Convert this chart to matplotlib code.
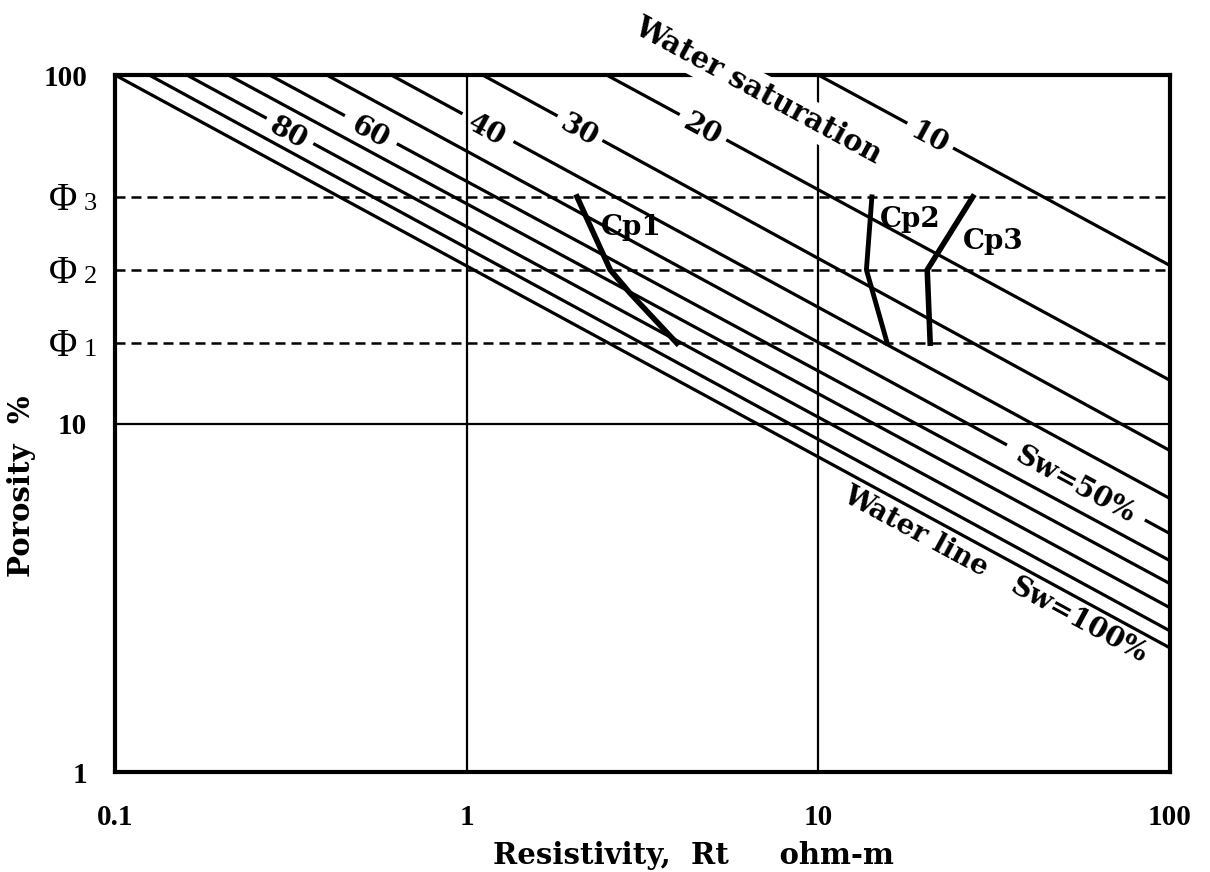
import numpy as np
import matplotlib
matplotlib.use('Agg')
import matplotlib.pyplot as plt

# constant water saturation lines (Sw, %), read where each one meets
# the top edge (porosity 100) and the right edge (Rt 100) of the chart
sw = [100, 90, 80, 70, 60, 50, 40, 30, 20, 10]
rt_top = [0.1, 0.125, 0.16, 0.21, 0.275, 0.40, 0.61, 1.11, 2.5, 10.0]
phi_right = [2.27, 2.54, 2.96, 3.47, 4.04, 4.83, 6.09, 8.36, 13.3, 28.4]

# porosity levels (dashed)
phi_levels = [17.0, 27.6, 44.7]
phi_names = ['1', '2', '3']

# Cp curves: resistivity vs porosity
cp1_rt = [2.06, 2.56, 2.91, 3.96]
cp1_phi = [44.7, 27.6, 23.7, 17.0]
cp2_rt = [14.2, 13.7, 15.7]
cp2_phi = [44.7, 27.6, 17.0]
cp3_rt = [27.5, 20.4, 20.8]
cp3_phi = [44.7, 27.6, 17.0]

x_ticks = [0.1, 1, 10, 100]
x_ticklabels = ['0.1', '1', '10', '100']
y_ticks = [1, 10, 100]
y_ticklabels = ['1', '10', '100']

W, H = 1210, 872
fig = plt.figure(figsize=(W / 100, H / 100), dpi=100)
ax = fig.add_axes([115 / W, 1 - 772 / H, (1170 - 115) / W, (772 - 75) / H])
ax.set_xscale('log')
ax.set_yscale('log')
ax.set_xlim(0.1, 100)
ax.set_ylim(1, 100)

tick_font = dict(family='Liberation Serif', weight='bold', size=21)
lab_font = dict(family='DejaVu Serif', weight='bold', size=20)

ax.set_xticks(x_ticks)
ax.set_xticklabels(x_ticklabels, **tick_font)
ax.set_yticks(y_ticks)
ax.set_yticklabels(y_ticklabels, **tick_font)
ax.minorticks_off()
ax.tick_params(axis='x', length=0, pad=23)
ax.tick_params(axis='y', length=0, pad=20)
for sp in ax.spines.values():
    sp.set_linewidth(3)

# grid
for gx in [1, 10]:
    ax.axvline(gx, color='k', lw=1.6, zorder=1)
ax.axhline(10, color='k', lw=1.6, zorder=1)

# porosity levels
for p, nm in zip(phi_levels, phi_names):
    ax.axhline(p, color='k', lw=1.8, ls=(0, (4, 2.4)), zorder=1)
    ax.annotate('\u03a6', xy=(0, p), xycoords=('axes fraction', 'data'),
                xytext=(-38, -13), textcoords='offset pixels', ha='right', va='baseline',
                family='Liberation Serif', size=28, annotation_clip=False)
    ax.annotate(nm, xy=(0, p), xycoords=('axes fraction', 'data'),
                xytext=(-18, -13), textcoords='offset pixels', ha='right', va='baseline',
                family='Liberation Serif', size=19, annotation_clip=False)

# inline labels: Sw -> (text, Rt at label centre, gap length in px)
inline = {80: ('80', 0.3145, 53), 60: ('60', 0.534, 59), 40: ('40', 1.15, 58),
          30: ('30', 2.10, 51), 20: ('20', 4.70, 53), 10: ('10', 20.8, 52),
          50: ('Sw=50%', 54.0, 157)}

ang = 0
for s, x0, y1 in zip(sw, rt_top, phi_right):
    p0 = np.array([np.log10(x0), 2.0])
    p1 = np.array([2.0, np.log10(y1)])
    d0 = ax.transData.transform([x0, 100])
    d1 = ax.transData.transform([100, y1])
    length = np.hypot(*(d1 - d0))
    ang = np.degrees(np.arctan2(d1[1] - d0[1], d1[0] - d0[0]))
    parts = [(0, 1)]
    if s in inline:
        txt, gx, gap = inline[s]
        tc = (np.log10(gx) - p0[0]) / (p1[0] - p0[0])
        th = gap / 2 / length
        parts = [(0, tc - th), (tc + th, 1)]
        gy = 10 ** (p0[1] + tc * (p1[1] - p0[1]))
        ax.text(gx, gy, txt, rotation=ang, rotation_mode='anchor', ha='center',
                va='center_baseline', **lab_font)
    for a, b in parts:
        pa = p0 + a * (p1 - p0)
        pb = p0 + b * (p1 - p0)
        ax.plot(10 ** np.array([pa[0], pb[0]]), 10 ** np.array([pa[1], pb[1]]),
                color='k', lw=2.3, solid_capstyle='butt', zorder=2)

# water line labels
ax.text(18.9, 4.88, 'Water line', rotation=ang, rotation_mode='anchor',
        ha='center', va='center', **lab_font)
ax.text(54.7, 2.73, 'Sw=100%', rotation=ang, rotation_mode='anchor',
        ha='center', va='center', **lab_font)

# Cp curves
ax.plot(cp1_rt, cp1_phi, color='k', lw=4, zorder=3)
ax.plot(cp2_rt, cp2_phi, color='k', lw=3.5, zorder=3)
ax.plot(cp3_rt, cp3_phi, color='k', lw=4, zorder=3)
ax.text(2.93, 36.6, 'Cp1', ha='center', va='center', **lab_font)
ax.text(18.3, 38.6, 'Cp2', ha='center', va='center', **lab_font)
ax.text(31.4, 33.2, 'Cp3', ha='center', va='center', **lab_font)

# title over the top edge
fig.text(758 / W, 1 - 91 / H, 'Water saturation', rotation=ang, rotation_mode='anchor',
         ha='center', va='center', bbox=dict(facecolor='white', edgecolor='none', pad=3),
         family='DejaVu Serif', weight='bold', size=21)

fig.text(693 / W, 1 - 855 / H, 'Resistivity,  Rt     ohm-m', ha='center', va='center',
         family='DejaVu Serif', weight='bold', size=21)
fig.text(22 / W, 1 - 486 / H, 'Porosity  %', rotation=90, ha='center', va='center',
         family='DejaVu Serif', weight='bold', size=21)

fig.savefig('out.png', dpi=100)
